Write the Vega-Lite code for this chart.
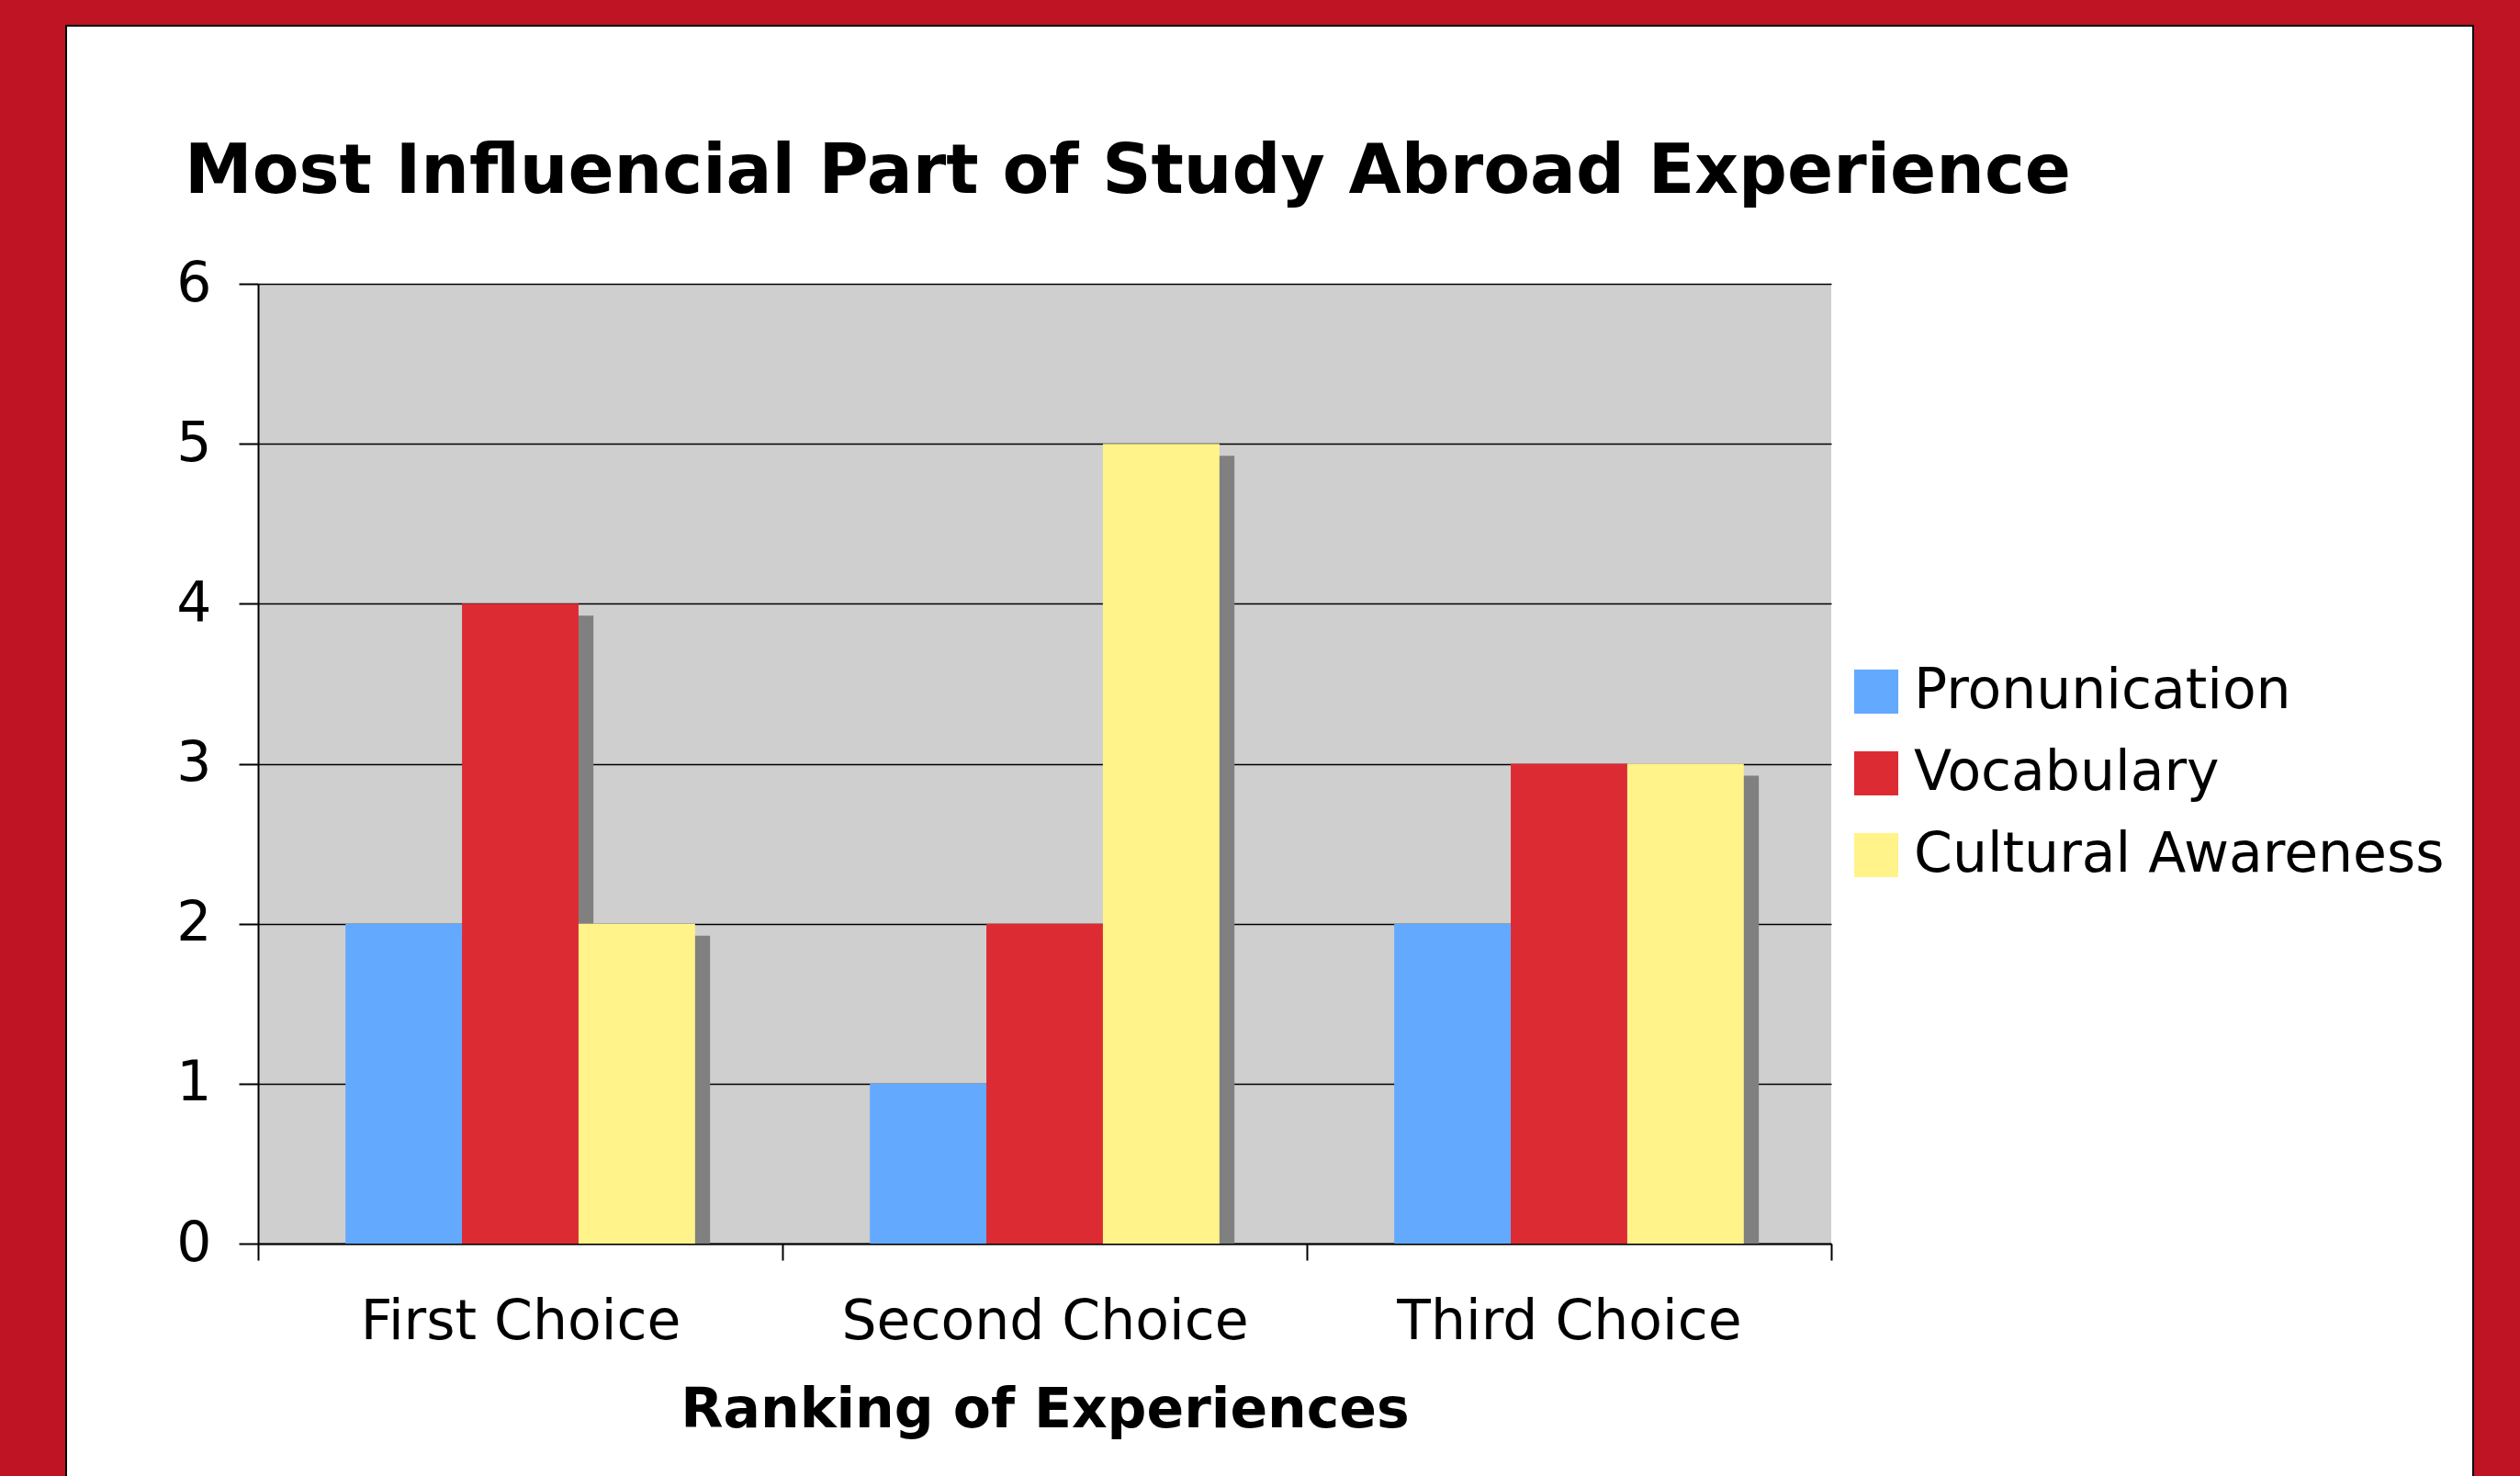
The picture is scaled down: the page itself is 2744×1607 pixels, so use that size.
{
  "$schema": "https://vega.github.io/schema/vega-lite/v6.json",
  "background": "#bf1424",
  "padding": {"left": 71, "top": 27, "right": 52, "bottom": 0},
  "autosize": {"type": "pad"},
  "data": {"values": [
    {"choice": "First Choice", "aspect": "Pronunication", "count": 2},
    {"choice": "First Choice", "aspect": "Vocabulary", "count": 4},
    {"choice": "First Choice", "aspect": "Cultural Awareness", "count": 2},
    {"choice": "Second Choice", "aspect": "Pronunication", "count": 1},
    {"choice": "Second Choice", "aspect": "Vocabulary", "count": 2},
    {"choice": "Second Choice", "aspect": "Cultural Awareness", "count": 5},
    {"choice": "Third Choice", "aspect": "Pronunication", "count": 2},
    {"choice": "Third Choice", "aspect": "Vocabulary", "count": 3},
    {"choice": "Third Choice", "aspect": "Cultural Awareness", "count": 3}
  ]},
  "config": {
    "font": "DejaVu Sans",
    "view": {"stroke": null},
    "axis": {"labelFont": "DejaVu Sans", "titleFont": "DejaVu Sans", "labelColor": "#000000", "titleColor": "#000000", "domainColor": "#000000", "tickColor": "#000000", "gridColor": "#000000"},
    "scale": {"offsetBandPaddingInner": 0, "offsetBandPaddingOuter": 0}
  },
  "hconcat": [
    {
      "width": 2621,
      "height": 1607,
      "view": {"fill": "#ffffff", "stroke": "#000000", "strokeWidth": 2},
      "mark": {"type": "point", "opacity": 0},
      "encoding": {}
    },
    {
      "width": 1713,
      "height": 1045,
      "title": {"text": "Most Influencial Part of Study Abroad Experience", "font": "DejaVu Sans", "fontWeight": "bold", "fontSize": 74, "color": "#000000", "anchor": "start", "frame": "group", "dx": -80, "offset": -5, "baseline": "alphabetic"},
      "view": {"fill": "#cfcfcf", "stroke": null},
      "encoding": {
        "x": {"field": "choice", "type": "nominal", "sort": ["First Choice", "Second Choice", "Third Choice"],
          "scale": {"paddingInner": 0.3333, "paddingOuter": 0.1667},
          "axis": {"title": "Ranking of Experiences", "titleFontWeight": "bold", "titleFontSize": 60, "titlePadding": 37, "labelFontSize": 60, "labelAngle": 0, "labelPadding": 38, "labelOffset": 95, "tickSize": 18, "tickWidth": 2, "domainWidth": 2, "bandPosition": 1.5, "tickExtra": true, "tickOffset": -95, "grid": false, "labelLimit": 0}},
        "y": {"field": "count", "type": "quantitative", "scale": {"domain": [0, 6], "nice": false},
          "axis": {"title": null, "values": [0, 1, 2, 3, 4, 5, 6], "labelFontSize": 60, "labelPadding": 30, "tickSize": 21, "tickWidth": 2, "domainWidth": 2, "grid": true, "gridWidth": 1.5}},
        "xOffset": {"field": "aspect", "type": "nominal", "sort": ["Pronunication", "Vocabulary", "Cultural Awareness"]}
      },
      "layer": [
        {
          "mark": {"type": "bar", "color": "#808080", "yOffset": 13},
          "encoding": {
            "xOffset": {"field": "aspect", "type": "nominal", "sort": ["Pronunication", "Vocabulary", "Cultural Awareness"], "scale": {"range": [16, 397]}},
            "y2": {"datum": 0}
          }
        },
        {
          "mark": {"type": "bar"},
          "encoding": {
            "color": {"field": "aspect", "type": "nominal", "sort": ["Pronunication", "Vocabulary", "Cultural Awareness"],
              "scale": {"domain": ["Pronunication", "Vocabulary", "Cultural Awareness"], "range": ["#63a9fe", "#dd2b34", "#fff38a"]},
              "legend": {"title": null, "orient": "none", "legendX": 1732, "legendY": 414, "symbolType": "square", "symbolSize": 2304, "symbolStrokeWidth": 0, "labelFont": "DejaVu Sans", "labelFontSize": 60, "labelColor": "#000000", "labelOffset": 11, "rowPadding": 29, "labelLimit": 0, "padding": 0}}
          }
        }
      ],
      "resolve": {"scale": {"xOffset": "independent"}}
    }
  ],
  "spacing": -2412,
  "align": {"row": "all", "column": "none"},
  "center": {"row": true},
  "bounds": "flush",
  "resolve": {"scale": {"color": "independent"}, "legend": {"color": "independent"}}
}
